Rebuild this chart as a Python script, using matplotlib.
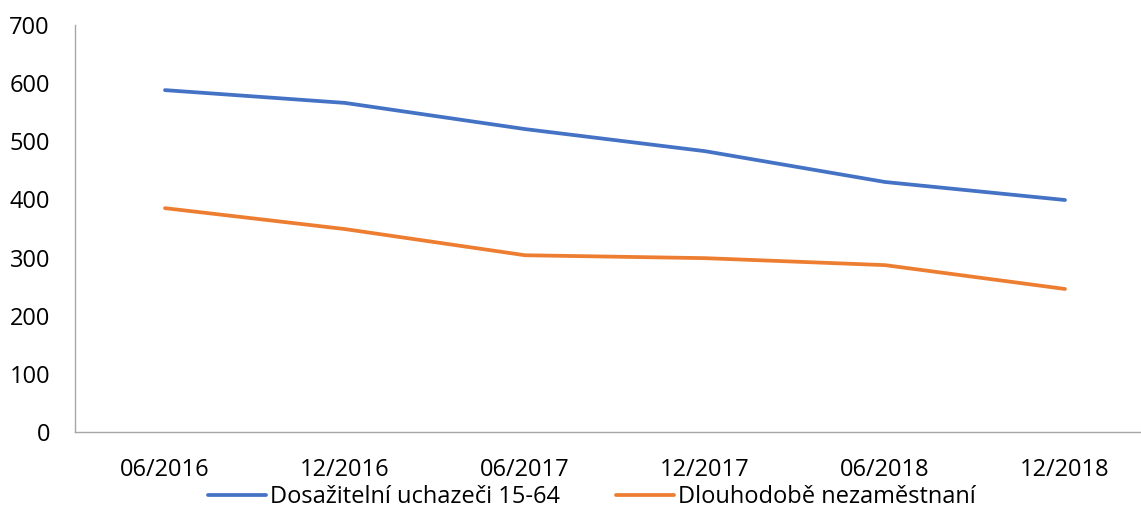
import matplotlib.pyplot as plt

plt.rcParams['font.family'] = ['Open Sans', 'DejaVu Sans']

# data
periods = ["06/2016", "12/2016", "06/2017", "12/2017", "06/2018", "12/2018"]
uchazeci = [588, 566, 521, 483, 430, 399]
dlouhodobe = [385, 349, 304, 299, 287, 246]

W, H = 1141, 532
fig = plt.figure(figsize=(W / 100, H / 100), dpi=100)
# axes in pixel coordinates: left 75, bottom 432, top 25, right past the figure edge
ax = fig.add_axes([75 / W, (H - 432) / H, 1080 / W, (432 - 25) / H])

x = list(range(len(periods)))
ax.plot(x, uchazeci, color='#4472C4', lw=2.7, label="Dosažitelní uchazeči 15-64",
        solid_capstyle='round')
ax.plot(x, dlouhodobe, color='#ED7D31', lw=2.7, label="Dlouhodobě nezaměstnaní",
        solid_capstyle='round')

ax.set_xlim(-0.5, len(periods) - 0.5)
ax.set_ylim(0, 700)
ax.set_yticks(range(0, 701, 100))
ax.set_xticks(x)
ax.set_xticklabels(periods)

for s in ['top', 'right']:
    ax.spines[s].set_visible(False)
for s in ['left', 'bottom']:
    ax.spines[s].set_color('#A6A6A6')
    ax.spines[s].set_linewidth(1.0)

ax.tick_params(axis='both', length=0, labelsize=17, colors='black')
ax.tick_params(axis='y', pad=18)
ax.tick_params(axis='x', pad=19)

fig.legend(loc='center', bbox_to_anchor=(592 / W, (H - 497) / H),
           ncol=2, frameon=False, fontsize=17, handlelength=2.45,
           handletextpad=0.15, columnspacing=2.4)

fig.savefig("out.png", dpi=100)
